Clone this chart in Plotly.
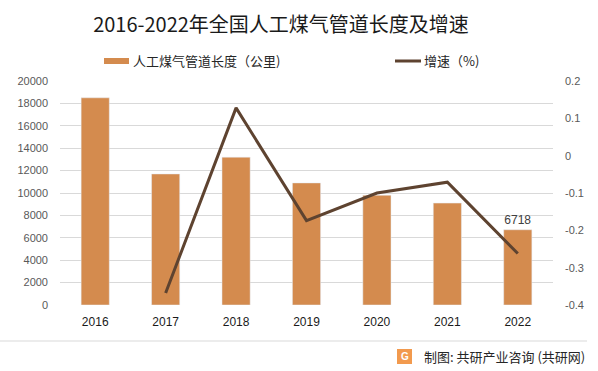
import plotly.graph_objects as go

years = ["2016", "2017", "2018", "2019", "2020", "2021", "2022"]
length_km = [18500, 11700, 13200, 10900, 9800, 9100, 6718]
growth_years = ["2017", "2018", "2019", "2020", "2021", "2022"]
growth = [-0.368, 0.128, -0.174, -0.100, -0.071, -0.262]
left_ticks = list(range(0, 20001, 2000))
right_ticks = [-0.4, -0.3, -0.2, -0.1, 0, 0.1, 0.2]
right_tick_text = ["-0.4", "-0.3", "-0.2", "-0.1", "0", "0.1", "0.2"]
bar_name = "人工煤气管道长度（公里)"
line_name = "增速（%)"

CJK = "Noto Sans CJK SC"
NUM = "Liberation Sans"
BAR_COLOR = "#D48B4E"
LINE_COLOR = "#5E4330"

fig = go.Figure()
fig.add_trace(go.Bar(
    x=years, y=length_km, name=bar_name,
    marker=dict(color=BAR_COLOR),
    text=[""] * (len(years) - 1) + [str(length_km[-1])],
    textposition="outside", textfont=dict(family=NUM, size=12, color="#404040"),
    cliponaxis=False, showlegend=False,
))
fig.add_trace(go.Scatter(
    x=growth_years, y=growth, name=line_name, yaxis="y2", mode="lines",
    line=dict(color=LINE_COLOR, width=3), showlegend=False,
))

fig.update_layout(
    width=598, height=371,
    margin=dict(l=60, r=45, t=81, b=66, autoexpand=False),
    paper_bgcolor="white", plot_bgcolor="white",
    title=dict(text="2016-2022年全国人工煤气管道长度及增速", x=281 / 598, xanchor="center",
               y=1 - 25 / 371, yanchor="middle",
               font=dict(family=CJK, size=20, color="#1a1a1a")),
    bargap=0.6,
    showlegend=False,
    xaxis=dict(type="category", tickfont=dict(family=NUM, size=12, color="#1a1a1a"),
               showline=False, ticks="", showgrid=False, automargin=False,
               ticklabelstandoff=8),
    yaxis=dict(range=[0, 20000], tickvals=left_ticks, ticktext=[str(v) for v in left_ticks],
               tickfont=dict(family=NUM, size=11, color="#595959"),
               gridcolor="#D9D9D9", gridwidth=1, zeroline=False, ticks="",
               ticklabelstandoff=11, automargin=False),
    yaxis2=dict(range=[-0.4, 0.2], tickvals=right_ticks, ticktext=right_tick_text,
                overlaying="y", side="right",
                tickfont=dict(family=NUM, size=11, color="#595959"),
                showgrid=False, zeroline=False, ticks="", ticklabelstandoff=11,
                automargin=False),
    font=dict(family=CJK),
)

# custom legend (wide swatches as in the reference)
fig.add_shape(type="rect", xref="paper", yref="paper", x0=0.0892, x1=0.140,
              y0=1.0759, y1=1.1027, fillcolor=BAR_COLOR, line=dict(width=0))
fig.add_annotation(text=bar_name, xref="paper", yref="paper", x=0.144, y=1.0893,
                   xanchor="left", yanchor="middle", showarrow=False,
                   font=dict(family=CJK, size=13, color="#262626"))
fig.add_shape(type="line", xref="paper", yref="paper", x0=0.6795, x1=0.7323,
              y0=1.0893, y1=1.0893, line=dict(color=LINE_COLOR, width=3))
fig.add_annotation(text=line_name, xref="paper", yref="paper", x=0.734, y=1.0893,
                   xanchor="left", yanchor="middle", showarrow=False,
                   font=dict(family=CJK, size=13, color="#262626"))

# bottom separator line
fig.add_shape(type="line", xref="paper", yref="paper", x0=-0.1217, x1=1.069,
              y0=-0.1607, y1=-0.1607, line=dict(color="#E6E6E6", width=1.5))
# footer logo
fig.add_shape(type="rect", xref="paper", yref="paper", x0=0.6836, x1=0.714,
              y0=-0.2634, y1=-0.1964, fillcolor="#F29A4E", line=dict(width=0))
fig.add_annotation(text="<b>G</b>", xref="paper", yref="paper", x=0.6988, y=-0.23,
                   xanchor="center", yanchor="middle", showarrow=False,
                   font=dict(family=NUM, size=10, color="white"))
fig.add_annotation(text="制图: 共研产业咨询 (共研网)", xref="paper", yref="paper",
                   x=1.069, y=-0.2277, xanchor="right", yanchor="middle", showarrow=False,
                   font=dict(family=CJK, size=13, color="#262626"))

fig.write_html("out.html", config={"displayModeBar": False},
               post_script="document.body.style.margin='0';document.body.style.padding='0';")
